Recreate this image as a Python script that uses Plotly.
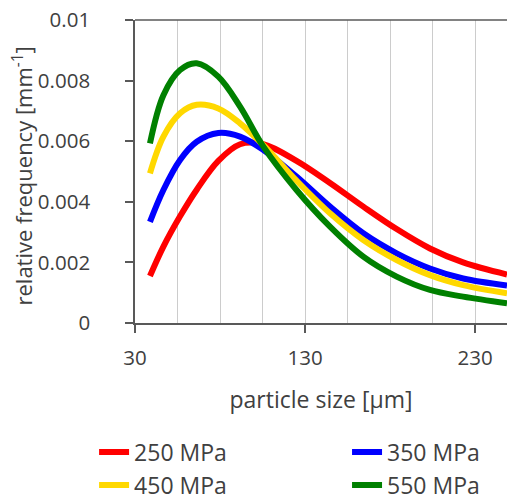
import plotly.graph_objects as go

particle_size = [38.8, 46.7, 56.5, 66.3, 79.0, 91.8, 105.5, 125.0, 144.7, 164.3, 183.9, 203.5, 223.0, 248.8]
mpa_250 = [0.00155, 0.00252, 0.00352, 0.00440, 0.00535, 0.00590, 0.00590, 0.00535, 0.00462, 0.00384, 0.00310, 0.00246, 0.00200, 0.00160]
mpa_350 = [0.00334, 0.00439, 0.00538, 0.00598, 0.00627, 0.00615, 0.00571, 0.00483, 0.00384, 0.00296, 0.00230, 0.00180, 0.00147, 0.00124]
mpa_450 = [0.00494, 0.00615, 0.00692, 0.00720, 0.00708, 0.00659, 0.00587, 0.00470, 0.00362, 0.00274, 0.00208, 0.00158, 0.00125, 0.00098]
mpa_550 = [0.00593, 0.00752, 0.00835, 0.00857, 0.00813, 0.00714, 0.00582, 0.00439, 0.00318, 0.00219, 0.00153, 0.00109, 0.00087, 0.00065]

series = [
    ("250 MPa", mpa_250, "#ff0000", "legend"),
    ("350 MPa", mpa_350, "#0000ff", "legend2"),
    ("450 MPa", mpa_450, "#ffd800", "legend"),
    ("550 MPa", mpa_550, "#008000", "legend2"),
]

FONT = "Open Sans"
TXT = "#404040"
FS = 23
TFS = 20.5

fig = go.Figure()
for name, vals, col, lg in series:
    fig.add_trace(go.Scatter(
        x=particle_size, y=vals, name=name, mode="lines",
        line=dict(color=col, width=6, shape="spline", smoothing=1.0),
        legend=lg,
    ))

leg_common = dict(yref="container", y=0.137, yanchor="top", xanchor="left",
                  orientation="v", font=dict(size=FS, color=TXT),
                  bgcolor="rgba(0,0,0,0)")

fig.update_layout(
    width=507, height=499,
    margin=dict(l=135, r=0, t=20, b=176),
    paper_bgcolor="white", plot_bgcolor="white",
    font=dict(family=FONT, size=FS, color=TXT),
    legend=dict(x=-0.11, **leg_common),
    legend2=dict(x=0.57, **leg_common),
    shapes=[dict(type="line", xref="paper", yref="paper", x0=0, x1=1, y0=1, y1=1,
                 line=dict(color="#595959", width=1.5))],
    annotations=[dict(text="relative frequency [mm<sup>-1</sup>]", textangle=-90,
                      xref="paper", yref="paper", x=0, y=0.4835,
                      xanchor="center", yanchor="middle", xshift=-113,
                      showarrow=False, font=dict(size=22, color=TXT))],
)

fig.update_xaxes(
    range=[30, 248.8], tick0=30, dtick=100,
    showline=True, linecolor="#595959", linewidth=1.5,
    ticks="outside", ticklen=8, tickcolor="#595959", tickwidth=1.5,
    tickfont=dict(size=TFS, color=TXT),
    showgrid=True, gridcolor="#cccccc", gridwidth=1,
    minor=dict(dtick=25, tick0=30, showgrid=True, gridcolor="#cccccc", gridwidth=1, ticks=""),
    zeroline=False,
    ticklabelstandoff=8,
    title=dict(text="particle size [μm]", standoff=22, font=dict(size=FS, color=TXT)),
    automargin=False,
)
fig.update_yaxes(
    range=[0, 0.01], dtick=0.002, tick0=0,
    showline=True, linecolor="#595959", linewidth=1.5,
    ticks="outside", ticklen=8, tickcolor="#595959", tickwidth=1.5,
    tickfont=dict(size=TFS, color=TXT),
    showgrid=False, zeroline=False,
    ticklabelstandoff=31,
    automargin=False,
)

fig.write_html("out.html")
